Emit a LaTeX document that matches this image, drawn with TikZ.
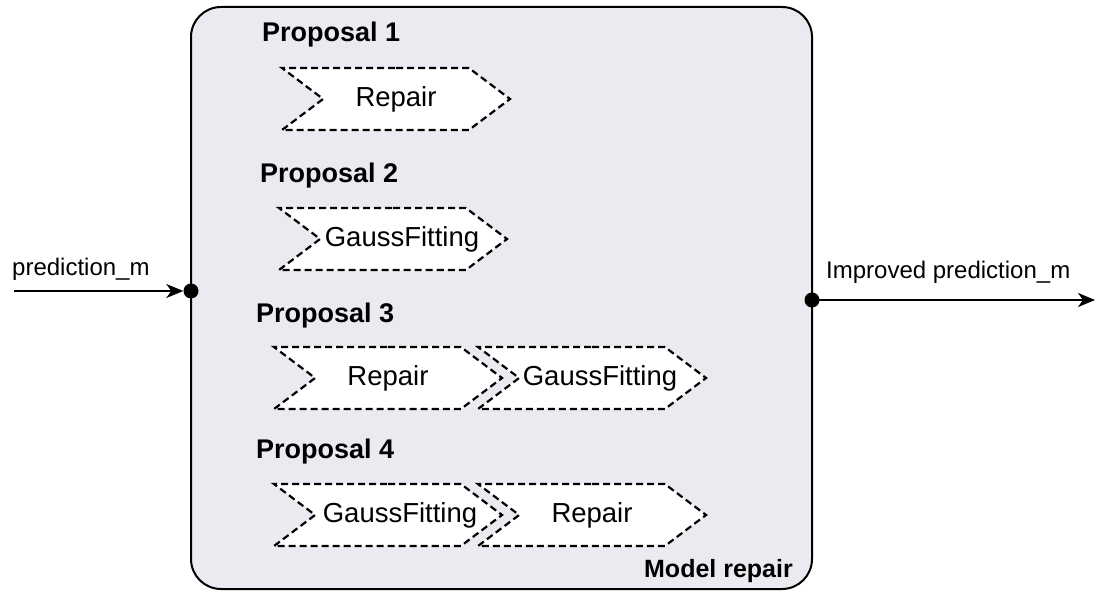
\documentclass[tikz,border=0pt]{standalone}
\usepackage{fontspec}
\setmainfont{Liberation Sans}
\usetikzlibrary{shapes.symbols,arrows.meta}
\definecolor{panelfill}{HTML}{ECE9F0}
\newcommand{\nudged}[2]{\makebox[0pt]{\hspace*{#1}#2}}
\begin{document}
\begin{tikzpicture}[x=1pt,y=-1pt,
  chev/.style={signal, signal from=west, signal to=east, signal pointer angle=74,
    draw, dash pattern=on 7pt off 4pt, line width=2.2pt, fill=white,
    minimum width=228pt, minimum height=62pt, inner sep=0pt,
    font=\fontsize{27.5}{30}\selectfont},
  proplabel/.style={anchor=west, inner sep=0pt, font=\bfseries\fontsize{27}{30}\selectfont},
  sidelabel/.style={anchor=west, inner sep=0pt, font=\fontsize{24}{28}\selectfont},
  port/.style={circle, fill=black, minimum size=15pt, inner sep=0pt},
  flow/.style={line width=2pt, -{Stealth[length=17pt,width=14pt,inset=5pt]}}
]
\useasboundingbox (0,0) rectangle (1097,593);

% model repair panel
\draw[line width=2pt, fill=panelfill, rounded corners=30pt] (191,7) rectangle (812,589);
\node[anchor=east, inner sep=0pt, font=\bfseries\fontsize{25}{28}\selectfont] (title) at (793,571) {Model repair};

% proposals
\node[proplabel] (p1) at (262,35) {Proposal 1};
\node[chev] (p1a) at (396,99) {Repair};

\node[proplabel] (p2) at (260,176) {Proposal 2};
\node[chev] (p2a) at (393,239) {\nudged{18pt}{GaussFitting}};

\node[proplabel] (p3) at (256,316) {Proposal 3};
\node[chev] (p3a) at (388,378) {Repair};
\node[chev] (p3b) at (592,378) {\nudged{16pt}{GaussFitting}};

\node[proplabel] (p4) at (256,452) {Proposal 4};
\node[chev] (p4a) at (388,515) {\nudged{24pt}{GaussFitting}};
\node[chev] (p4b) at (592,515) {Repair};

% ports and data flow
\node[port] (in) at (191,291) {};
\node[port] (out) at (812,300) {};
\coordinate (src) at (14,291);
\coordinate (dst) at (1095,300);
\node[sidelabel] (inlabel) at (12,269) {prediction\_m};
\node[sidelabel] (outlabel) at (826,272) {Improved prediction\_m};
\draw[flow] (src) -- (in.west);
\draw[flow] (out.center) -- (dst);
\end{tikzpicture}
\end{document}
